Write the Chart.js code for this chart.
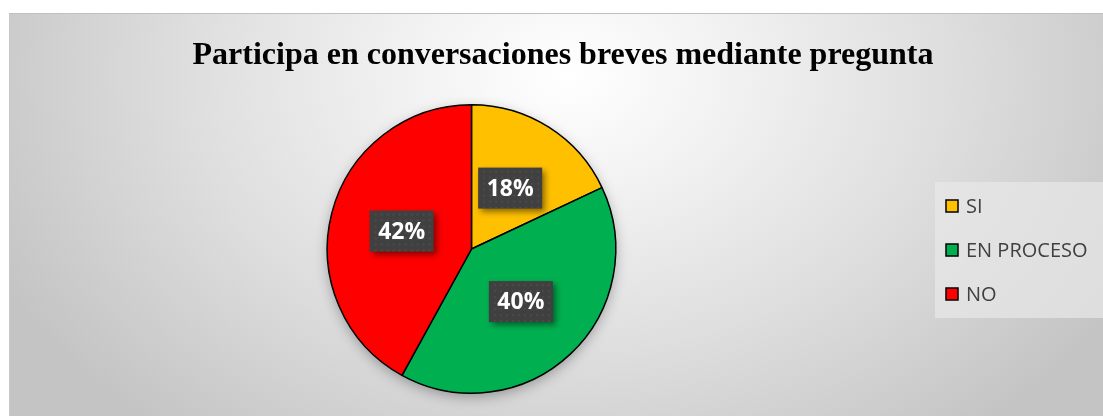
<!DOCTYPE html>
<html>
<head>
<meta charset="utf-8">
<script src="https://cdn.jsdelivr.net/npm/chart.js@4"></script>
<style>
  body { margin: 0; background: #fff; }
  #bg {
    position: absolute; left: 9px; top: 13px; width: 1094px; height: 403px;
    border-top: 1px solid #c0c0c0; border-left: 1px solid #c8c8c8;
    background: radial-gradient(ellipse 58% 115% at 51% 15%, #ffffff 0%, #f2f2f2 25%, #dedede 60%, #c4c4c4 100%);
  }
  #wrap { position: absolute; left: 0; top: 0; width: 1103px; height: 416px; }
</style>
</head>
<body>
<div id="bg"></div>
<div id="wrap"><canvas id="pieChart"></canvas></div>
<script>
const title = "Participa en conversaciones breves mediante pregunta";
const labels = ["SI", "EN PROCESO", "NO"];
const values = [18, 40, 42];
const colors = ["#FFC000", "#00B050", "#FF0000"];

// title across the whole chart width
const wideTitle = {
    id: "wideTitle",
    afterDraw(chart) {
        const ctx = chart.ctx;
        ctx.save();
        ctx.fillStyle = "#000";
        ctx.font = "bold 32px 'Liberation Serif'";
        ctx.textAlign = "center";
        ctx.textBaseline = "alphabetic";
        ctx.fillText(title, 563, 64);
        ctx.restore();
    }
};

// shadow under the pie
const pieShadow = {
    id: "pieShadow",
    beforeDatasetsDraw(chart) {
        const arc = chart.getDatasetMeta(0).data[0];
        if (!arc) return;
        const ctx = chart.ctx;
        ctx.save();
        ctx.shadowColor = "rgba(0,0,0,0.35)";
        ctx.shadowBlur = 14;
        ctx.shadowOffsetY = 4;
        ctx.fillStyle = "#888";
        ctx.beginPath();
        ctx.arc(arc.x, arc.y, arc.outerRadius - 1, 0, Math.PI * 2);
        ctx.fill();
        ctx.restore();
    }
};

// dark label boxes with percentages
const boxLabels = {
    id: "boxLabels",
    afterDatasetsDraw(chart) {
        const ctx = chart.ctx;
        const total = values.reduce((a, b) => a + b, 0);
        chart.getDatasetMeta(0).data.forEach((arc, i) => {
            const p = arc.getCenterPoint();
            const w = 64, h = 41;
            ctx.save();
            ctx.shadowColor = "rgba(0,0,0,0.45)";
            ctx.shadowBlur = 6;
            ctx.shadowOffsetX = 3;
            ctx.shadowOffsetY = 3;
            ctx.fillStyle = "#404040";
            ctx.fillRect(p.x - w / 2, p.y - h / 2, w, h);
            ctx.restore();
            ctx.save();
            ctx.fillStyle = "rgba(255,255,255,0.06)";
            for (let yy = 4; yy < h; yy += 6) {
                for (let xx = 3 + (yy % 12 ? 3 : 0); xx < w; xx += 6) {
                    ctx.beginPath();
                    ctx.arc(p.x - w / 2 + xx, p.y - h / 2 + yy, 1.2, 0, Math.PI * 2);
                    ctx.fill();
                }
            }
            ctx.fillStyle = "#fff";
            ctx.font = "bold 23px 'Open Sans'";
            ctx.textAlign = "center";
            ctx.textBaseline = "middle";
            ctx.fillText(Math.round(values[i] / total * 100) + "%", p.x, p.y + 1);
            ctx.restore();
        });
    }
};

// legend box at the right
const sideLegend = {
    id: "sideLegend",
    afterDraw(chart) {
        const ctx = chart.ctx;
        ctx.save();
        ctx.fillStyle = "rgba(232,232,232,0.7)";
        ctx.fillRect(935, 182, 168, 136);
        ctx.font = "20px 'Open Sans'";
        ctx.textBaseline = "middle";
        labels.forEach((lab, i) => {
            const y = 206 + i * 44;
            ctx.fillStyle = colors[i];
            ctx.fillRect(946, y - 6, 12, 12);
            ctx.strokeStyle = "#000";
            ctx.lineWidth = 1.5;
            ctx.strokeRect(946, y - 6, 12, 12);
            ctx.fillStyle = "#404040";
            ctx.fillText(lab, 966, y + 1);
        });
        ctx.restore();
    }
};

new Chart(document.getElementById("pieChart"), {
    type: "pie",
    data: {
        labels: labels,
        datasets: [{
            data: values,
            backgroundColor: colors,
            borderColor: "#000",
            borderWidth: 1.5
        }]
    },
    options: {
        responsive: true,
        maintainAspectRatio: false,
        animation: false,
        layout: { padding: { left: 326, right: 486, top: 104, bottom: 22 } },
        plugins: {
            legend: { display: false },
            tooltip: { enabled: false },
            title: { display: false }
        }
    },
    plugins: [pieShadow, boxLabels, sideLegend, wideTitle]
});
</script>
</body>
</html>
